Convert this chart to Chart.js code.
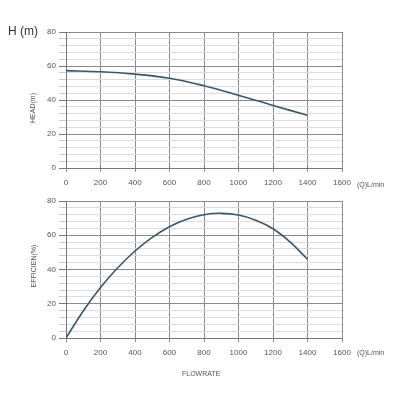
<!DOCTYPE html>
<html>
<head>
<meta charset="utf-8">
<script src="https://cdn.jsdelivr.net/npm/chart.js@4"></script>
<style>
  body { margin: 0; background: #fff; font-family: "Liberation Sans", Arial, sans-serif; }
  #wrap { position: relative; width: 400px; height: 400px; overflow: hidden; }
  .box { position: absolute; left: 0; width: 400px; }
  .lbl { position: absolute; color: #555; font-size: 7px; white-space: nowrap; }
  .rot { transform: translate(-50%, -50%) rotate(-90deg); }
</style>
</head>
<body>
<div id="wrap">
  <div class="box" style="top:0;height:200px"><canvas id="headChart"></canvas></div>
  <div class="box" style="top:190px;height:210px"><canvas id="effChart"></canvas></div>
  <div class="lbl" style="left:8px;top:24px;font-size:12px;color:#333">H (m)</div>
  <div class="lbl rot" style="left:32px;top:108px">HEAD(m)</div>
  <div class="lbl rot" style="left:33px;top:266px">EFFICIEN(%)</div>
  <div class="lbl" style="left:357px;top:181px">(Q)L/min</div>
  <div class="lbl" style="left:357px;top:349px">(Q)L/min</div>
  <div class="lbl" style="left:182px;top:370px">FLOWRATE</div>
</div>
<script>
// curve data
const headFlow = [0, 200, 400, 600, 800, 1000, 1200, 1400];
const headValues = [57.3, 56.6, 55.2, 52.8, 48.4, 42.8, 36.8, 31];

const effFlow = [0, 100, 200, 300, 400, 500, 600, 700, 800, 900, 1000, 1100, 1200, 1300, 1400];
const effValues = [0, 15.8, 29.5, 41, 50.8, 58.8, 65, 69.3, 72, 72.8, 71.8, 68.8, 63.8, 56, 46];

const xTicks = [0, 200, 400, 600, 800, 1000, 1200, 1400, 1600];
const yMajor = [0, 20, 40, 60, 80];

const tickFont = { family: '"Liberation Sans", Arial, sans-serif', size: 8 };

function makeChart(id, xs, ys, padTop, xAxisHeight) {
  const ctx = document.getElementById(id).getContext('2d');
  return new Chart(ctx, {
    type: 'line',
    data: {
      datasets: [{
        data: xs.map((x, i) => ({ x: x, y: ys[i] })),
        borderColor: '#3b5668',
        borderWidth: 1.6,
        pointRadius: 0,
        fill: false,
        tension: 0.4
      }]
    },
    options: {
      responsive: true,
      maintainAspectRatio: false,
      animation: false,
      layout: { padding: { top: padTop, right: 58, left: 0, bottom: 0 } },
      plugins: { legend: { display: false }, tooltip: { enabled: false } },
      scales: {
        x: {
          type: 'linear',
          min: xTicks[0],
          max: xTicks[xTicks.length - 1],
          afterFit: s => { s.height = xAxisHeight; },
          afterBuildTicks: s => { s.ticks = xTicks.map(v => ({ value: v })); },
          ticks: {
            font: tickFont, color: '#555', padding: 6, maxRotation: 0, autoSkip: false,
            callback: v => String(v)
          },
          grid: { color: '#8a8a8a', lineWidth: 1, tickLength: 4, tickColor: '#8a8a8a' },
          border: { color: '#777', width: 1 }
        },
        y: {
          min: 0,
          max: 80,
          afterFit: s => { s.width = 66; },
          ticks: {
            stepSize: 4,
            autoSkip: false,
            font: tickFont,
            color: '#555',
            padding: 3,
            callback: v => yMajor.includes(v) ? v : ''
          },
          grid: {
            color: c => yMajor.includes(c.tick.value) ? '#8a8a8a' : '#dcdcdc',
            tickColor: c => yMajor.includes(c.tick.value) ? '#777' : '#ccc',
            lineWidth: 1,
            tickLength: 7
          },
          border: { color: '#777', width: 1 }
        }
      }
    }
  });
}

makeChart('headChart', headFlow, headValues, 32, 32);
makeChart('effChart', effFlow, effValues, 11, 62);
</script>
</body>
</html>
